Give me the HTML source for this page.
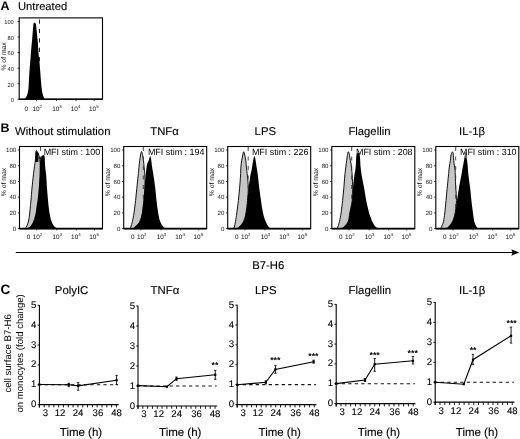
<!DOCTYPE html>
<html><head><meta charset="utf-8"><title>Figure</title>
<style>
html,body{margin:0;padding:0;background:#fff;}
body{width:520px;height:439px;overflow:hidden;}
svg{display:block;will-change:transform;filter:blur(0.3px);}
text{font-family:"Liberation Sans", sans-serif;text-rendering:geometricPrecision;}
</style></head>
<body>
<svg width="520" height="439" viewBox="0 0 520 439">
<rect x="0" y="0" width="520" height="439" fill="#fff"/>
<text x="0.6" y="9.6" font-size="12.5" text-anchor="start" font-weight="bold" fill="#000" >A</text>
<text x="0.6" y="131.9" font-size="12.5" text-anchor="start" font-weight="bold" fill="#000" >B</text>
<text x="0.4" y="293.8" font-size="13.5" text-anchor="start" font-weight="bold" fill="#000" >C</text>
<text x="18" y="9.6" font-size="11.2" text-anchor="start" font-weight="normal" fill="#000" stroke="#000" stroke-width="0.12">Untreated</text>
<line x1="17.6" y1="99.3" x2="19.2" y2="99.3" stroke="#000" stroke-width="0.8"/>
<text x="13.8" y="102.15" font-size="5.7" text-anchor="end" font-weight="normal" fill="#111" >0</text>
<line x1="17.6" y1="83.74" x2="19.2" y2="83.74" stroke="#000" stroke-width="0.8"/>
<text x="13.8" y="86.59" font-size="5.7" text-anchor="end" font-weight="normal" fill="#111" >20</text>
<line x1="17.6" y1="68.18" x2="19.2" y2="68.18" stroke="#000" stroke-width="0.8"/>
<text x="13.8" y="71.03" font-size="5.7" text-anchor="end" font-weight="normal" fill="#111" >40</text>
<line x1="17.6" y1="52.62" x2="19.2" y2="52.62" stroke="#000" stroke-width="0.8"/>
<text x="13.8" y="55.47" font-size="5.7" text-anchor="end" font-weight="normal" fill="#111" >60</text>
<line x1="17.6" y1="37.06" x2="19.2" y2="37.06" stroke="#000" stroke-width="0.8"/>
<text x="13.8" y="39.91" font-size="5.7" text-anchor="end" font-weight="normal" fill="#111" >80</text>
<line x1="17.6" y1="21.5" x2="19.2" y2="21.5" stroke="#000" stroke-width="0.8"/>
<text x="13.8" y="24.35" font-size="5.7" text-anchor="end" font-weight="normal" fill="#111" >100</text>
<text transform="translate(5.6,56.4) rotate(-90)" font-size="6.8" text-anchor="middle" fill="#111">% of max</text>
<text x="26.3" y="110.8" font-size="6.4" text-anchor="middle" font-weight="normal" fill="#111" >0</text>
<text x="37.2" y="110.8" font-size="6.4" text-anchor="middle" font-weight="normal" fill="#111" >10<tspan font-size="4.4" dy="-2.8">2</tspan></text>
<text x="57" y="110.8" font-size="6.4" text-anchor="middle" font-weight="normal" fill="#111" >10<tspan font-size="4.4" dy="-2.8">3</tspan></text>
<text x="75.6" y="110.8" font-size="6.4" text-anchor="middle" font-weight="normal" fill="#111" >10<tspan font-size="4.4" dy="-2.8">4</tspan></text>
<text x="93.8" y="110.8" font-size="6.4" text-anchor="middle" font-weight="normal" fill="#111" >10<tspan font-size="4.4" dy="-2.8">5</tspan></text>
<line x1="36.4" y1="99.3" x2="36.4" y2="101.1" stroke="#000" stroke-width="0.7"/>
<line x1="56.5" y1="99.3" x2="56.5" y2="101.1" stroke="#000" stroke-width="0.7"/>
<line x1="76.1" y1="99.3" x2="76.1" y2="101.1" stroke="#000" stroke-width="0.7"/>
<line x1="94.2" y1="99.3" x2="94.2" y2="101.1" stroke="#000" stroke-width="0.7"/>
<path d="M24.5,99.3 C24.65,99.13 24.93,99.08 25.4,98.3 C25.87,97.52 26.78,96.32 27.3,94.6 C27.82,92.88 28.22,90.65 28.5,88 C28.78,85.35 28.82,81.82 29,78.7 C29.18,75.58 29.37,72.42 29.6,69.3 C29.83,66.18 30.17,62.88 30.4,60 C30.63,57.12 30.82,54.33 31,52 C31.18,49.67 31.32,48 31.5,46 C31.68,44 31.93,41.83 32.1,40 C32.27,38.17 32.37,36.67 32.5,35 C32.63,33.33 32.77,31.58 32.9,30 C33.03,28.42 33.18,26.57 33.3,25.5 C33.42,24.43 33.43,24.07 33.6,23.6 C33.77,23.13 34.03,22.82 34.3,22.7 C34.57,22.58 34.93,22.68 35.2,22.9 C35.47,23.12 35.73,23.48 35.9,24 C36.07,24.52 36.07,24.83 36.2,26 C36.33,27.17 36.53,29.27 36.7,31 C36.87,32.73 37.02,34.57 37.2,36.4 C37.38,38.23 37.63,40.07 37.8,42 C37.97,43.93 38.07,46 38.2,48 C38.33,50 38.42,52 38.6,54 C38.78,56 39.1,58 39.3,60 C39.5,62 39.63,64 39.8,66 C39.97,68 40.13,69.88 40.3,72 C40.47,74.12 40.58,76.03 40.8,78.7 C41.02,81.37 41.27,85.35 41.6,88 C41.93,90.65 42.35,92.88 42.8,94.6 C43.25,96.32 43.83,97.52 44.3,98.3 C44.77,99.08 45.38,99.13 45.6,99.3 Z" fill="#000"/>
<line x1="39.5" y1="19.5" x2="39.5" y2="62" stroke="#222" stroke-width="1.0" stroke-dasharray="4.2,5.2"/>
<rect x="19.2" y="17.9" width="83.3" height="81.4" fill="none" stroke="#000" stroke-width="1.1"/>
<line x1="19.2" y1="99.3" x2="102.5" y2="99.3" stroke="#000" stroke-width="1.6"/>
<text x="15" y="135.4" font-size="11.3" text-anchor="start" font-weight="normal" fill="#000" stroke="#000" stroke-width="0.12">Without stimulation</text>
<text x="150.3" y="135.4" font-size="11.3" text-anchor="start" font-weight="normal" fill="#000" stroke="#000" stroke-width="0.12">TNFα</text>
<text x="254.6" y="135.4" font-size="11.3" text-anchor="start" font-weight="normal" fill="#000" stroke="#000" stroke-width="0.12">LPS</text>
<text x="348.4" y="135.4" font-size="11.3" text-anchor="start" font-weight="normal" fill="#000" stroke="#000" stroke-width="0.12">Flagellin</text>
<text x="459" y="135.4" font-size="11.3" text-anchor="start" font-weight="normal" fill="#000" stroke="#000" stroke-width="0.12">IL-1β</text>
<line x1="17.9" y1="228.6" x2="19.5" y2="228.6" stroke="#000" stroke-width="0.8"/>
<text x="16.2" y="230.8" font-size="6.1" text-anchor="end" font-weight="normal" fill="#111" >0</text>
<line x1="17.9" y1="212.88" x2="19.5" y2="212.88" stroke="#000" stroke-width="0.8"/>
<text x="16.2" y="215.08" font-size="6.1" text-anchor="end" font-weight="normal" fill="#111" >20</text>
<line x1="17.9" y1="197.16" x2="19.5" y2="197.16" stroke="#000" stroke-width="0.8"/>
<text x="16.2" y="199.36" font-size="6.1" text-anchor="end" font-weight="normal" fill="#111" >40</text>
<line x1="17.9" y1="181.44" x2="19.5" y2="181.44" stroke="#000" stroke-width="0.8"/>
<text x="16.2" y="183.64" font-size="6.1" text-anchor="end" font-weight="normal" fill="#111" >60</text>
<line x1="17.9" y1="165.72" x2="19.5" y2="165.72" stroke="#000" stroke-width="0.8"/>
<text x="16.2" y="167.92" font-size="6.1" text-anchor="end" font-weight="normal" fill="#111" >80</text>
<line x1="17.9" y1="150" x2="19.5" y2="150" stroke="#000" stroke-width="0.8"/>
<text x="16.2" y="152.2" font-size="6.1" text-anchor="end" font-weight="normal" fill="#111" >100</text>
<text transform="translate(5.9,182) rotate(-90)" font-size="6.8" text-anchor="middle" fill="#111">% of max</text>
<text x="28.5" y="238.8" font-size="6.4" text-anchor="middle" font-weight="normal" fill="#111" >0</text>
<text x="37.5" y="238.8" font-size="6.4" text-anchor="middle" font-weight="normal" fill="#111" >10<tspan font-size="4.4" dy="-2.8">2</tspan></text>
<text x="57.3" y="238.8" font-size="6.4" text-anchor="middle" font-weight="normal" fill="#111" >10<tspan font-size="4.4" dy="-2.8">3</tspan></text>
<text x="75.9" y="238.8" font-size="6.4" text-anchor="middle" font-weight="normal" fill="#111" >10<tspan font-size="4.4" dy="-2.8">4</tspan></text>
<text x="94.1" y="238.8" font-size="6.4" text-anchor="middle" font-weight="normal" fill="#111" >10<tspan font-size="4.4" dy="-2.8">5</tspan></text>
<line x1="36.7" y1="228.6" x2="36.7" y2="230.4" stroke="#000" stroke-width="0.7"/>
<line x1="56.8" y1="228.6" x2="56.8" y2="230.4" stroke="#000" stroke-width="0.7"/>
<line x1="76.4" y1="228.6" x2="76.4" y2="230.4" stroke="#000" stroke-width="0.7"/>
<line x1="94.5" y1="228.6" x2="94.5" y2="230.4" stroke="#000" stroke-width="0.7"/>
<path d="M24.5,228.6 C24.6,228.55 24.72,228.73 25.1,228.3 C25.48,227.87 26.22,227.22 26.8,226 C27.38,224.78 28.13,223 28.6,221 C29.07,219 29.32,216.33 29.6,214 C29.88,211.67 30.07,209.33 30.3,207 C30.53,204.67 30.72,203.17 31,200 C31.28,196.83 31.62,192 32,188 C32.38,184 32.9,179.5 33.3,176 C33.7,172.5 34.07,169.53 34.4,167 C34.73,164.47 35.03,163.43 35.3,160.8 C35.57,158.17 35.68,152.75 36,151.2 C36.32,149.65 36.78,151.03 37.2,151.5 C37.62,151.97 38.12,152.92 38.5,154 C38.88,155.08 39.2,156.17 39.5,158 C39.8,159.83 40.13,162 40.3,165 C40.47,168 40.55,171.83 40.5,176 C40.45,180.17 40.17,186 40,190 C39.83,194 39.75,196.67 39.5,200 C39.25,203.33 39.08,206.67 38.5,210 C37.92,213.33 37.08,217.33 36,220 C34.92,222.67 33.33,224.57 32,226 C30.67,227.43 28.67,228.17 28,228.6 Z" fill="#c6c6c6" stroke="#111" stroke-width="1.0"/>
<line x1="40.6" y1="147" x2="40.6" y2="228" stroke="#333" stroke-width="0.9" stroke-dasharray="4,5.5"/>
<path d="M27.5,228.6 C28.03,228.17 29.72,227.27 30.7,226 C31.68,224.73 32.6,223 33.4,221 C34.2,219 34.98,216.33 35.5,214 C36.02,211.67 36.15,209.33 36.5,207 C36.85,204.67 37.22,203.17 37.6,200 C37.98,196.83 38.48,192 38.8,188 C39.12,184 39.33,179.5 39.5,176 C39.67,172.5 39.68,169.53 39.8,167 C39.92,164.47 40.03,162.38 40.2,160.8 C40.37,159.22 40.5,158.3 40.8,157.5 C41.1,156.7 41.58,156.42 42,156 C42.42,155.58 42.92,155.08 43.3,155 C43.68,154.92 44.07,155.07 44.3,155.5 C44.53,155.93 44.55,155.68 44.7,157.6 C44.85,159.52 44.95,164.03 45.2,167 C45.45,169.97 45.9,171.9 46.2,175.4 C46.5,178.9 46.7,183.9 47,188 C47.3,192.1 47.72,196.83 48,200 C48.28,203.17 48.42,204.67 48.7,207 C48.98,209.33 49.25,211.67 49.7,214 C50.15,216.33 50.7,219 51.4,221 C52.1,223 52.92,224.78 53.9,226 C54.88,227.22 56.45,227.87 57.3,228.3 C58.15,228.73 58.72,228.55 59,228.6 Z" fill="#000"/>
<path d="M35.3,162 L35.5,156 L36,151.2 L37,151.5 L38.3,153.5 L38.6,158 L38.2,162 Z" fill="#000"/>
<rect x="19.5" y="146.5" width="83" height="82.1" fill="none" stroke="#000" stroke-width="1.1"/>
<line x1="19.5" y1="228.6" x2="102.5" y2="228.6" stroke="#000" stroke-width="1.6"/>
<text x="100.3" y="155.1" font-size="8.95" text-anchor="end" font-weight="normal" fill="#000" >MFI stim : 100</text>
<line x1="122.1" y1="228.6" x2="123.7" y2="228.6" stroke="#000" stroke-width="0.8"/>
<text x="120.4" y="230.8" font-size="6.1" text-anchor="end" font-weight="normal" fill="#111" >0</text>
<line x1="122.1" y1="212.88" x2="123.7" y2="212.88" stroke="#000" stroke-width="0.8"/>
<text x="120.4" y="215.08" font-size="6.1" text-anchor="end" font-weight="normal" fill="#111" >20</text>
<line x1="122.1" y1="197.16" x2="123.7" y2="197.16" stroke="#000" stroke-width="0.8"/>
<text x="120.4" y="199.36" font-size="6.1" text-anchor="end" font-weight="normal" fill="#111" >40</text>
<line x1="122.1" y1="181.44" x2="123.7" y2="181.44" stroke="#000" stroke-width="0.8"/>
<text x="120.4" y="183.64" font-size="6.1" text-anchor="end" font-weight="normal" fill="#111" >60</text>
<line x1="122.1" y1="165.72" x2="123.7" y2="165.72" stroke="#000" stroke-width="0.8"/>
<text x="120.4" y="167.92" font-size="6.1" text-anchor="end" font-weight="normal" fill="#111" >80</text>
<line x1="122.1" y1="150" x2="123.7" y2="150" stroke="#000" stroke-width="0.8"/>
<text x="120.4" y="152.2" font-size="6.1" text-anchor="end" font-weight="normal" fill="#111" >100</text>
<text transform="translate(110.1,182) rotate(-90)" font-size="6.8" text-anchor="middle" fill="#111">% of max</text>
<text x="132.7" y="238.8" font-size="6.4" text-anchor="middle" font-weight="normal" fill="#111" >0</text>
<text x="141.7" y="238.8" font-size="6.4" text-anchor="middle" font-weight="normal" fill="#111" >10<tspan font-size="4.4" dy="-2.8">2</tspan></text>
<text x="161.5" y="238.8" font-size="6.4" text-anchor="middle" font-weight="normal" fill="#111" >10<tspan font-size="4.4" dy="-2.8">3</tspan></text>
<text x="180.1" y="238.8" font-size="6.4" text-anchor="middle" font-weight="normal" fill="#111" >10<tspan font-size="4.4" dy="-2.8">4</tspan></text>
<text x="198.3" y="238.8" font-size="6.4" text-anchor="middle" font-weight="normal" fill="#111" >10<tspan font-size="4.4" dy="-2.8">5</tspan></text>
<line x1="140.9" y1="228.6" x2="140.9" y2="230.4" stroke="#000" stroke-width="0.7"/>
<line x1="161" y1="228.6" x2="161" y2="230.4" stroke="#000" stroke-width="0.7"/>
<line x1="180.6" y1="228.6" x2="180.6" y2="230.4" stroke="#000" stroke-width="0.7"/>
<line x1="198.7" y1="228.6" x2="198.7" y2="230.4" stroke="#000" stroke-width="0.7"/>
<path d="M129.5,228.6 C129.7,228.35 130.22,228.28 130.7,227.1 C131.18,225.92 131.85,223.87 132.4,221.5 C132.95,219.13 133.47,216.38 134,212.9 C134.53,209.42 135.13,204.7 135.6,200.6 C136.07,196.5 136.38,192.4 136.8,188.3 C137.22,184.2 137.73,179.53 138.1,176 C138.47,172.47 138.73,169.63 139,167.1 C139.27,164.57 139.43,162.82 139.7,160.8 C139.97,158.78 140.32,156.55 140.6,155 C140.88,153.45 141.08,151.6 141.4,151.5 C141.72,151.4 142.15,152.85 142.5,154.4 C142.85,155.95 143.23,158.68 143.5,160.8 C143.77,162.92 143.87,164.57 144.1,167.1 C144.33,169.63 144.75,172.47 144.9,176 C145.05,179.53 145.15,184.2 145,188.3 C144.85,192.4 144.42,196.5 144,200.6 C143.58,204.7 143.17,209.42 142.5,212.9 C141.83,216.38 141.08,218.88 140,221.5 C138.92,224.12 136.67,227.42 136,228.6 Z" fill="#c6c6c6" stroke="#111" stroke-width="1.0"/>
<line x1="143.3" y1="147" x2="143.3" y2="228" stroke="#333" stroke-width="0.9" stroke-dasharray="4,5.5"/>
<path d="M133.5,228.6 C133.68,228.35 133.6,228.28 134.6,227.1 C135.6,225.92 138.27,223.87 139.5,221.5 C140.73,219.13 141.33,216.38 142,212.9 C142.67,209.42 143.08,204.7 143.5,200.6 C143.92,196.5 144.15,192.4 144.5,188.3 C144.85,184.2 145.25,179.53 145.6,176 C145.95,172.47 146.28,169.27 146.6,167.1 C146.92,164.93 147.12,164.18 147.5,163 C147.88,161.82 148.52,161.03 148.9,160 C149.28,158.97 149.57,157.42 149.8,156.8 C150.03,156.18 150.13,156.18 150.3,156.3 C150.47,156.42 150.63,156.75 150.8,157.5 C150.97,158.25 151.08,159.2 151.3,160.8 C151.52,162.4 151.72,164.57 152.1,167.1 C152.48,169.63 153.07,172.47 153.6,176 C154.13,179.53 154.82,184.2 155.3,188.3 C155.78,192.4 156.02,196.5 156.5,200.6 C156.98,204.7 157.58,209.42 158.2,212.9 C158.82,216.38 159.32,219.13 160.2,221.5 C161.08,223.87 162.53,225.92 163.5,227.1 C164.47,228.28 165.58,228.35 166,228.6 Z" fill="#000"/>
<rect x="123.7" y="146.5" width="83" height="82.1" fill="none" stroke="#000" stroke-width="1.1"/>
<line x1="123.7" y1="228.6" x2="206.7" y2="228.6" stroke="#000" stroke-width="1.6"/>
<text x="204.5" y="155.1" font-size="8.95" text-anchor="end" font-weight="normal" fill="#000" >MFI stim : 194</text>
<line x1="226.1" y1="228.6" x2="227.7" y2="228.6" stroke="#000" stroke-width="0.8"/>
<text x="224.4" y="230.8" font-size="6.1" text-anchor="end" font-weight="normal" fill="#111" >0</text>
<line x1="226.1" y1="212.88" x2="227.7" y2="212.88" stroke="#000" stroke-width="0.8"/>
<text x="224.4" y="215.08" font-size="6.1" text-anchor="end" font-weight="normal" fill="#111" >20</text>
<line x1="226.1" y1="197.16" x2="227.7" y2="197.16" stroke="#000" stroke-width="0.8"/>
<text x="224.4" y="199.36" font-size="6.1" text-anchor="end" font-weight="normal" fill="#111" >40</text>
<line x1="226.1" y1="181.44" x2="227.7" y2="181.44" stroke="#000" stroke-width="0.8"/>
<text x="224.4" y="183.64" font-size="6.1" text-anchor="end" font-weight="normal" fill="#111" >60</text>
<line x1="226.1" y1="165.72" x2="227.7" y2="165.72" stroke="#000" stroke-width="0.8"/>
<text x="224.4" y="167.92" font-size="6.1" text-anchor="end" font-weight="normal" fill="#111" >80</text>
<line x1="226.1" y1="150" x2="227.7" y2="150" stroke="#000" stroke-width="0.8"/>
<text x="224.4" y="152.2" font-size="6.1" text-anchor="end" font-weight="normal" fill="#111" >100</text>
<text transform="translate(214.1,182) rotate(-90)" font-size="6.8" text-anchor="middle" fill="#111">% of max</text>
<text x="236.7" y="238.8" font-size="6.4" text-anchor="middle" font-weight="normal" fill="#111" >0</text>
<text x="245.7" y="238.8" font-size="6.4" text-anchor="middle" font-weight="normal" fill="#111" >10<tspan font-size="4.4" dy="-2.8">2</tspan></text>
<text x="265.5" y="238.8" font-size="6.4" text-anchor="middle" font-weight="normal" fill="#111" >10<tspan font-size="4.4" dy="-2.8">3</tspan></text>
<text x="284.1" y="238.8" font-size="6.4" text-anchor="middle" font-weight="normal" fill="#111" >10<tspan font-size="4.4" dy="-2.8">4</tspan></text>
<text x="302.3" y="238.8" font-size="6.4" text-anchor="middle" font-weight="normal" fill="#111" >10<tspan font-size="4.4" dy="-2.8">5</tspan></text>
<line x1="244.9" y1="228.6" x2="244.9" y2="230.4" stroke="#000" stroke-width="0.7"/>
<line x1="265" y1="228.6" x2="265" y2="230.4" stroke="#000" stroke-width="0.7"/>
<line x1="284.6" y1="228.6" x2="284.6" y2="230.4" stroke="#000" stroke-width="0.7"/>
<line x1="302.7" y1="228.6" x2="302.7" y2="230.4" stroke="#000" stroke-width="0.7"/>
<path d="M233,228.6 C233.22,228.35 233.88,228.28 234.3,227.1 C234.72,225.92 235.08,223.87 235.5,221.5 C235.92,219.13 236.32,216.38 236.8,212.9 C237.28,209.42 237.93,204.7 238.4,200.6 C238.87,196.5 239.25,192.4 239.6,188.3 C239.95,184.2 240.28,179.53 240.5,176 C240.72,172.47 240.7,169.63 240.9,167.1 C241.1,164.57 241.38,162.82 241.7,160.8 C242.02,158.78 242.48,156.5 242.8,155 C243.12,153.5 243.32,151.97 243.6,151.8 C243.88,151.63 244.13,152.5 244.5,154 C244.87,155.5 245.48,158.62 245.8,160.8 C246.12,162.98 246.13,164.57 246.4,167.1 C246.67,169.63 247.08,172.47 247.4,176 C247.72,179.53 248.28,184.2 248.3,188.3 C248.32,192.4 247.88,196.5 247.5,200.6 C247.12,204.7 246.67,209.42 246,212.9 C245.33,216.38 244.63,219.13 243.5,221.5 C242.37,223.87 240.28,225.92 239.2,227.1 C238.12,228.28 237.37,228.35 237,228.6 Z" fill="#c6c6c6" stroke="#111" stroke-width="1.0"/>
<line x1="248.2" y1="147" x2="248.2" y2="228" stroke="#333" stroke-width="0.9" stroke-dasharray="4,5.5"/>
<path d="M237,228.6 C237.37,228.35 238.12,228.28 239.2,227.1 C240.28,225.92 242.37,223.87 243.5,221.5 C244.63,219.13 245.33,216.38 246,212.9 C246.67,209.42 247.07,204.7 247.5,200.6 C247.93,196.5 248.13,192.4 248.6,188.3 C249.07,184.2 249.8,179.05 250.3,176 C250.8,172.95 251.25,171.83 251.6,170 C251.95,168.17 252.15,166.53 252.4,165 C252.65,163.47 252.87,162.05 253.1,160.8 C253.33,159.55 253.58,158.25 253.8,157.5 C254.02,156.75 254.2,156.3 254.4,156.3 C254.6,156.3 254.78,156.75 255,157.5 C255.22,158.25 255.43,159.2 255.7,160.8 C255.97,162.4 256.23,164.67 256.6,167.1 C256.97,169.53 257.45,171.87 257.9,175.4 C258.35,178.93 258.78,184.1 259.3,188.3 C259.82,192.5 260.38,196.5 261,200.6 C261.62,204.7 262.22,209.42 263,212.9 C263.78,216.38 264.73,219.13 265.7,221.5 C266.67,223.87 267.92,225.92 268.8,227.1 C269.68,228.28 270.63,228.35 271,228.6 Z" fill="#000"/>
<rect x="227.7" y="146.5" width="83" height="82.1" fill="none" stroke="#000" stroke-width="1.1"/>
<line x1="227.7" y1="228.6" x2="310.7" y2="228.6" stroke="#000" stroke-width="1.6"/>
<text x="308.5" y="155.1" font-size="8.95" text-anchor="end" font-weight="normal" fill="#000" >MFI stim : 226</text>
<line x1="330.2" y1="228.6" x2="331.8" y2="228.6" stroke="#000" stroke-width="0.8"/>
<text x="328.5" y="230.8" font-size="6.1" text-anchor="end" font-weight="normal" fill="#111" >0</text>
<line x1="330.2" y1="212.88" x2="331.8" y2="212.88" stroke="#000" stroke-width="0.8"/>
<text x="328.5" y="215.08" font-size="6.1" text-anchor="end" font-weight="normal" fill="#111" >20</text>
<line x1="330.2" y1="197.16" x2="331.8" y2="197.16" stroke="#000" stroke-width="0.8"/>
<text x="328.5" y="199.36" font-size="6.1" text-anchor="end" font-weight="normal" fill="#111" >40</text>
<line x1="330.2" y1="181.44" x2="331.8" y2="181.44" stroke="#000" stroke-width="0.8"/>
<text x="328.5" y="183.64" font-size="6.1" text-anchor="end" font-weight="normal" fill="#111" >60</text>
<line x1="330.2" y1="165.72" x2="331.8" y2="165.72" stroke="#000" stroke-width="0.8"/>
<text x="328.5" y="167.92" font-size="6.1" text-anchor="end" font-weight="normal" fill="#111" >80</text>
<line x1="330.2" y1="150" x2="331.8" y2="150" stroke="#000" stroke-width="0.8"/>
<text x="328.5" y="152.2" font-size="6.1" text-anchor="end" font-weight="normal" fill="#111" >100</text>
<text transform="translate(318.2,182) rotate(-90)" font-size="6.8" text-anchor="middle" fill="#111">% of max</text>
<text x="340.8" y="238.8" font-size="6.4" text-anchor="middle" font-weight="normal" fill="#111" >0</text>
<text x="349.8" y="238.8" font-size="6.4" text-anchor="middle" font-weight="normal" fill="#111" >10<tspan font-size="4.4" dy="-2.8">2</tspan></text>
<text x="369.6" y="238.8" font-size="6.4" text-anchor="middle" font-weight="normal" fill="#111" >10<tspan font-size="4.4" dy="-2.8">3</tspan></text>
<text x="388.2" y="238.8" font-size="6.4" text-anchor="middle" font-weight="normal" fill="#111" >10<tspan font-size="4.4" dy="-2.8">4</tspan></text>
<text x="406.4" y="238.8" font-size="6.4" text-anchor="middle" font-weight="normal" fill="#111" >10<tspan font-size="4.4" dy="-2.8">5</tspan></text>
<line x1="349" y1="228.6" x2="349" y2="230.4" stroke="#000" stroke-width="0.7"/>
<line x1="369.1" y1="228.6" x2="369.1" y2="230.4" stroke="#000" stroke-width="0.7"/>
<line x1="388.7" y1="228.6" x2="388.7" y2="230.4" stroke="#000" stroke-width="0.7"/>
<line x1="406.8" y1="228.6" x2="406.8" y2="230.4" stroke="#000" stroke-width="0.7"/>
<path d="M337,228.6 C337.12,228.35 337.28,228.28 337.7,227.1 C338.12,225.92 338.93,223.87 339.5,221.5 C340.07,219.13 340.58,216.38 341.1,212.9 C341.62,209.42 342.15,204.7 342.6,200.6 C343.05,196.5 343.43,192.4 343.8,188.3 C344.17,184.2 344.47,179.53 344.8,176 C345.13,172.47 345.5,169.63 345.8,167.1 C346.1,164.57 346.33,162.73 346.6,160.8 C346.87,158.87 347.13,157 347.4,155.5 C347.67,154 347.9,152.13 348.2,151.8 C348.5,151.47 348.93,152.53 349.2,153.5 C349.47,154.47 349.48,155.85 349.8,157.6 C350.12,159.35 350.78,161.93 351.1,164 C351.42,166.07 351.52,168 351.7,170 C351.88,172 352.03,172.95 352.2,176 C352.37,179.05 352.7,184.2 352.7,188.3 C352.7,192.4 352.68,196.5 352.2,200.6 C351.72,204.7 350.47,209.42 349.8,212.9 C349.13,216.38 349.2,219.13 348.2,221.5 C347.2,223.87 345,225.92 343.8,227.1 C342.6,228.28 341.47,228.35 341,228.6 Z" fill="#c6c6c6" stroke="#111" stroke-width="1.0"/>
<line x1="351.7" y1="147" x2="351.7" y2="228" stroke="#333" stroke-width="0.9" stroke-dasharray="4,5.5"/>
<path d="M341,228.6 C341.47,228.35 342.6,228.28 343.8,227.1 C345,225.92 347.2,223.87 348.2,221.5 C349.2,219.13 349.13,216.38 349.8,212.9 C350.47,209.42 351.68,204.7 352.2,200.6 C352.72,196.5 352.55,192.4 352.9,188.3 C353.25,184.2 353.83,179.53 354.3,176 C354.77,172.47 355.38,170.17 355.7,167.1 C356.02,164.03 356.05,159.7 356.2,157.6 C356.35,155.5 356.38,155.23 356.6,154.5 C356.82,153.77 357.2,153.43 357.5,153.2 C357.8,152.97 358.1,153.1 358.4,153.1 C358.7,153.1 359.03,152.45 359.3,153.2 C359.57,153.95 359.78,155.28 360,157.6 C360.22,159.92 360.3,164.03 360.6,167.1 C360.9,170.17 361.2,172.47 361.8,176 C362.4,179.53 363.47,184.2 364.2,188.3 C364.93,192.4 365.38,196.5 366.2,200.6 C367.02,204.7 368.32,210.03 369.1,212.9 C369.88,215.77 370.38,216.37 370.9,217.8 C371.42,219.23 371.38,219.95 372.2,221.5 C373.02,223.05 374.58,225.92 375.8,227.1 C377.02,228.28 378.88,228.35 379.5,228.6 Z" fill="#000"/>
<rect x="331.8" y="146.5" width="83" height="82.1" fill="none" stroke="#000" stroke-width="1.1"/>
<line x1="331.8" y1="228.6" x2="414.8" y2="228.6" stroke="#000" stroke-width="1.6"/>
<text x="412.6" y="155.1" font-size="8.95" text-anchor="end" font-weight="normal" fill="#000" >MFI stim : 208</text>
<line x1="434.2" y1="228.6" x2="435.8" y2="228.6" stroke="#000" stroke-width="0.8"/>
<text x="432.5" y="230.8" font-size="6.1" text-anchor="end" font-weight="normal" fill="#111" >0</text>
<line x1="434.2" y1="212.88" x2="435.8" y2="212.88" stroke="#000" stroke-width="0.8"/>
<text x="432.5" y="215.08" font-size="6.1" text-anchor="end" font-weight="normal" fill="#111" >20</text>
<line x1="434.2" y1="197.16" x2="435.8" y2="197.16" stroke="#000" stroke-width="0.8"/>
<text x="432.5" y="199.36" font-size="6.1" text-anchor="end" font-weight="normal" fill="#111" >40</text>
<line x1="434.2" y1="181.44" x2="435.8" y2="181.44" stroke="#000" stroke-width="0.8"/>
<text x="432.5" y="183.64" font-size="6.1" text-anchor="end" font-weight="normal" fill="#111" >60</text>
<line x1="434.2" y1="165.72" x2="435.8" y2="165.72" stroke="#000" stroke-width="0.8"/>
<text x="432.5" y="167.92" font-size="6.1" text-anchor="end" font-weight="normal" fill="#111" >80</text>
<line x1="434.2" y1="150" x2="435.8" y2="150" stroke="#000" stroke-width="0.8"/>
<text x="432.5" y="152.2" font-size="6.1" text-anchor="end" font-weight="normal" fill="#111" >100</text>
<text transform="translate(422.2,182) rotate(-90)" font-size="6.8" text-anchor="middle" fill="#111">% of max</text>
<text x="444.8" y="238.8" font-size="6.4" text-anchor="middle" font-weight="normal" fill="#111" >0</text>
<text x="453.8" y="238.8" font-size="6.4" text-anchor="middle" font-weight="normal" fill="#111" >10<tspan font-size="4.4" dy="-2.8">2</tspan></text>
<text x="473.6" y="238.8" font-size="6.4" text-anchor="middle" font-weight="normal" fill="#111" >10<tspan font-size="4.4" dy="-2.8">3</tspan></text>
<text x="492.2" y="238.8" font-size="6.4" text-anchor="middle" font-weight="normal" fill="#111" >10<tspan font-size="4.4" dy="-2.8">4</tspan></text>
<text x="510.4" y="238.8" font-size="6.4" text-anchor="middle" font-weight="normal" fill="#111" >10<tspan font-size="4.4" dy="-2.8">5</tspan></text>
<line x1="453" y1="228.6" x2="453" y2="230.4" stroke="#000" stroke-width="0.7"/>
<line x1="473.1" y1="228.6" x2="473.1" y2="230.4" stroke="#000" stroke-width="0.7"/>
<line x1="492.7" y1="228.6" x2="492.7" y2="230.4" stroke="#000" stroke-width="0.7"/>
<line x1="510.8" y1="228.6" x2="510.8" y2="230.4" stroke="#000" stroke-width="0.7"/>
<path d="M440.5,228.6 C440.65,228.35 440.9,228.28 441.4,227.1 C441.9,225.92 442.93,223.87 443.5,221.5 C444.07,219.13 444.38,216.38 444.8,212.9 C445.22,209.42 445.6,204.7 446,200.6 C446.4,196.5 446.8,192.4 447.2,188.3 C447.6,184.2 448.05,179.53 448.4,176 C448.75,172.47 448.98,169.63 449.3,167.1 C449.62,164.57 450.03,162.65 450.3,160.8 C450.57,158.95 450.7,157.22 450.9,156 C451.1,154.78 451.23,154.2 451.5,153.5 C451.77,152.8 452.22,151.72 452.5,151.8 C452.78,151.88 453.03,153.03 453.2,154 C453.37,154.97 453.35,155.93 453.5,157.6 C453.65,159.27 453.83,161.93 454.1,164 C454.37,166.07 454.9,168 455.1,170 C455.3,172 455.18,172.95 455.3,176 C455.42,179.05 455.6,184.2 455.8,188.3 C456,192.4 456.6,196.5 456.5,200.6 C456.4,204.7 455.87,209.42 455.2,212.9 C454.53,216.38 453.63,219.13 452.5,221.5 C451.37,223.87 449.48,225.92 448.4,227.1 C447.32,228.28 446.4,228.35 446,228.6 Z" fill="#c6c6c6" stroke="#111" stroke-width="1.0"/>
<line x1="455.7" y1="147" x2="455.7" y2="228" stroke="#333" stroke-width="0.9" stroke-dasharray="4,5.5"/>
<path d="M446,228.6 C446.4,228.35 447.32,228.28 448.4,227.1 C449.48,225.92 451.37,223.87 452.5,221.5 C453.63,219.13 454.45,216.38 455.2,212.9 C455.95,209.42 456.38,204.7 457,200.6 C457.62,196.5 458.2,192.4 458.9,188.3 C459.6,184.2 460.58,179.38 461.2,176 C461.82,172.62 462.23,170 462.6,168 C462.97,166 463.08,165.67 463.4,164 C463.72,162.33 464.13,159.5 464.5,158 C464.87,156.5 465.25,155 465.6,155 C465.95,155 466.28,156.5 466.6,158 C466.92,159.5 467.18,161.1 467.5,164 C467.82,166.9 468.05,171.35 468.5,175.4 C468.95,179.45 469.72,184.1 470.2,188.3 C470.68,192.5 470.93,196.5 471.4,200.6 C471.87,204.7 472.52,209.42 473,212.9 C473.48,216.38 473.68,219.13 474.3,221.5 C474.92,223.87 475.98,225.92 476.7,227.1 C477.42,228.28 478.28,228.35 478.6,228.6 Z" fill="#000"/>
<path d="M464.3,158 L465.2,152 L466,151.6 L466.8,154 L467.2,158 Z" fill="#666"/>
<rect x="435.8" y="146.5" width="83" height="82.1" fill="none" stroke="#000" stroke-width="1.1"/>
<line x1="435.8" y1="228.6" x2="518.8" y2="228.6" stroke="#000" stroke-width="1.6"/>
<text x="516.6" y="155.1" font-size="8.95" text-anchor="end" font-weight="normal" fill="#000" >MFI stim : 310</text>
<line x1="15.8" y1="252.5" x2="513" y2="252.5" stroke="#000" stroke-width="1.2"/>
<path d="M511.3,249.3 L519.2,252.5 L511.3,255.8 L512.6,252.5 Z" fill="#000"/>
<text x="268.2" y="269.3" font-size="11.3" text-anchor="middle" font-weight="normal" fill="#000" stroke="#000" stroke-width="0.12">B7-H6</text>
<text transform="translate(10.8,353.4) rotate(-90)" font-size="9.6" text-anchor="middle">cell surface B7-H6</text>
<text transform="translate(22.6,353.4) rotate(-90)" font-size="9.6" text-anchor="middle">on monocytes (fold change)</text>
<text x="54.8" y="293.5" font-size="11.4" text-anchor="start" font-weight="normal" fill="#000" stroke="#000" stroke-width="0.12">PolyIC</text>
<line x1="39.4" y1="305" x2="39.4" y2="407.4" stroke="#000" stroke-width="1.1"/>
<line x1="38.9" y1="404.6" x2="118.6" y2="404.6" stroke="#000" stroke-width="1.2"/>
<line x1="37.6" y1="404.6" x2="39.4" y2="404.6" stroke="#000" stroke-width="0.9"/>
<text x="36.4" y="407.1" font-size="9.6" text-anchor="end" font-weight="normal" fill="#000" stroke="#000" stroke-width="0.1">0</text>
<line x1="37.6" y1="384.74" x2="39.4" y2="384.74" stroke="#000" stroke-width="0.9"/>
<text x="36.4" y="387.24" font-size="9.6" text-anchor="end" font-weight="normal" fill="#000" stroke="#000" stroke-width="0.1">1</text>
<line x1="37.6" y1="364.88" x2="39.4" y2="364.88" stroke="#000" stroke-width="0.9"/>
<text x="36.4" y="367.38" font-size="9.6" text-anchor="end" font-weight="normal" fill="#000" stroke="#000" stroke-width="0.1">2</text>
<line x1="37.6" y1="345.02" x2="39.4" y2="345.02" stroke="#000" stroke-width="0.9"/>
<text x="36.4" y="347.52" font-size="9.6" text-anchor="end" font-weight="normal" fill="#000" stroke="#000" stroke-width="0.1">3</text>
<line x1="37.6" y1="325.16" x2="39.4" y2="325.16" stroke="#000" stroke-width="0.9"/>
<text x="36.4" y="327.66" font-size="9.6" text-anchor="end" font-weight="normal" fill="#000" stroke="#000" stroke-width="0.1">4</text>
<line x1="37.6" y1="305.3" x2="39.4" y2="305.3" stroke="#000" stroke-width="0.9"/>
<text x="36.4" y="307.8" font-size="9.6" text-anchor="end" font-weight="normal" fill="#000" stroke="#000" stroke-width="0.1">5</text>
<line x1="39.4" y1="404.6" x2="39.4" y2="407.4" stroke="#000" stroke-width="0.9"/>
<line x1="44.21" y1="404.6" x2="44.21" y2="407.4" stroke="#000" stroke-width="0.9"/>
<line x1="49.03" y1="404.6" x2="49.03" y2="407.4" stroke="#000" stroke-width="0.9"/>
<line x1="53.84" y1="404.6" x2="53.84" y2="407.4" stroke="#000" stroke-width="0.9"/>
<line x1="58.66" y1="404.6" x2="58.66" y2="407.4" stroke="#000" stroke-width="0.9"/>
<line x1="63.47" y1="404.6" x2="63.47" y2="407.4" stroke="#000" stroke-width="0.9"/>
<line x1="68.29" y1="404.6" x2="68.29" y2="407.4" stroke="#000" stroke-width="0.9"/>
<line x1="73.1" y1="404.6" x2="73.1" y2="407.4" stroke="#000" stroke-width="0.9"/>
<line x1="77.92" y1="404.6" x2="77.92" y2="407.4" stroke="#000" stroke-width="0.9"/>
<line x1="82.73" y1="404.6" x2="82.73" y2="407.4" stroke="#000" stroke-width="0.9"/>
<line x1="87.55" y1="404.6" x2="87.55" y2="407.4" stroke="#000" stroke-width="0.9"/>
<line x1="92.36" y1="404.6" x2="92.36" y2="407.4" stroke="#000" stroke-width="0.9"/>
<line x1="97.18" y1="404.6" x2="97.18" y2="407.4" stroke="#000" stroke-width="0.9"/>
<line x1="102" y1="404.6" x2="102" y2="407.4" stroke="#000" stroke-width="0.9"/>
<line x1="106.81" y1="404.6" x2="106.81" y2="407.4" stroke="#000" stroke-width="0.9"/>
<line x1="111.62" y1="404.6" x2="111.62" y2="407.4" stroke="#000" stroke-width="0.9"/>
<line x1="116.44" y1="404.6" x2="116.44" y2="407.4" stroke="#000" stroke-width="0.9"/>
<text x="45.4" y="416" font-size="9.6" text-anchor="middle" font-weight="normal" fill="#000" stroke="#000" stroke-width="0.1">3</text>
<text x="60.1" y="416" font-size="9.6" text-anchor="middle" font-weight="normal" fill="#000" stroke="#000" stroke-width="0.1">12</text>
<text x="78.1" y="416" font-size="9.6" text-anchor="middle" font-weight="normal" fill="#000" stroke="#000" stroke-width="0.1">24</text>
<text x="97.9" y="416" font-size="9.6" text-anchor="middle" font-weight="normal" fill="#000" stroke="#000" stroke-width="0.1">36</text>
<text x="116.5" y="416" font-size="9.6" text-anchor="middle" font-weight="normal" fill="#000" stroke="#000" stroke-width="0.1">48</text>
<text x="81" y="436" font-size="11.5" text-anchor="middle" font-weight="normal" fill="#000" stroke="#000" stroke-width="0.12">Time (h)</text>
<line x1="38.4" y1="384.74" x2="118.1" y2="384.74" stroke="#111" stroke-width="1.2" stroke-dasharray="3.3,3.2"/>
<polyline points="39.4,384.5 68.75,384.7 78.15,385.9 116.6,380.2" fill="none" stroke="#000" stroke-width="1.1"/>
<rect x="38.3" y="383.4" width="2.2" height="2.2" fill="#000"/>
<rect x="67.65" y="383.6" width="2.2" height="2.2" fill="#000"/>
<line x1="68.75" y1="383.3" x2="68.75" y2="386.6" stroke="#000" stroke-width="0.9"/>
<line x1="67.55" y1="383.3" x2="69.95" y2="383.3" stroke="#000" stroke-width="0.8"/>
<line x1="67.55" y1="386.6" x2="69.95" y2="386.6" stroke="#000" stroke-width="0.8"/>
<rect x="77.05" y="384.8" width="2.2" height="2.2" fill="#000"/>
<line x1="78.15" y1="382.6" x2="78.15" y2="390.3" stroke="#000" stroke-width="0.9"/>
<line x1="76.95" y1="382.6" x2="79.35" y2="382.6" stroke="#000" stroke-width="0.8"/>
<line x1="76.95" y1="390.3" x2="79.35" y2="390.3" stroke="#000" stroke-width="0.8"/>
<rect x="115.5" y="379.1" width="2.2" height="2.2" fill="#000"/>
<line x1="116.6" y1="375.4" x2="116.6" y2="384.5" stroke="#000" stroke-width="0.9"/>
<line x1="115.4" y1="375.4" x2="117.8" y2="375.4" stroke="#000" stroke-width="0.8"/>
<line x1="115.4" y1="384.5" x2="117.8" y2="384.5" stroke="#000" stroke-width="0.8"/>
<text x="150.5" y="293.5" font-size="11.4" text-anchor="start" font-weight="normal" fill="#000" stroke="#000" stroke-width="0.12">TNFα</text>
<line x1="138" y1="305.7" x2="138" y2="408.8" stroke="#000" stroke-width="1.1"/>
<line x1="137.5" y1="406" x2="217.2" y2="406" stroke="#000" stroke-width="1.2"/>
<line x1="136.2" y1="406" x2="138" y2="406" stroke="#000" stroke-width="0.9"/>
<text x="135" y="408.5" font-size="9.6" text-anchor="end" font-weight="normal" fill="#000" stroke="#000" stroke-width="0.1">0</text>
<line x1="136.2" y1="386" x2="138" y2="386" stroke="#000" stroke-width="0.9"/>
<text x="135" y="388.5" font-size="9.6" text-anchor="end" font-weight="normal" fill="#000" stroke="#000" stroke-width="0.1">1</text>
<line x1="136.2" y1="366" x2="138" y2="366" stroke="#000" stroke-width="0.9"/>
<text x="135" y="368.5" font-size="9.6" text-anchor="end" font-weight="normal" fill="#000" stroke="#000" stroke-width="0.1">2</text>
<line x1="136.2" y1="346" x2="138" y2="346" stroke="#000" stroke-width="0.9"/>
<text x="135" y="348.5" font-size="9.6" text-anchor="end" font-weight="normal" fill="#000" stroke="#000" stroke-width="0.1">3</text>
<line x1="136.2" y1="326" x2="138" y2="326" stroke="#000" stroke-width="0.9"/>
<text x="135" y="328.5" font-size="9.6" text-anchor="end" font-weight="normal" fill="#000" stroke="#000" stroke-width="0.1">4</text>
<line x1="136.2" y1="306" x2="138" y2="306" stroke="#000" stroke-width="0.9"/>
<text x="135" y="308.5" font-size="9.6" text-anchor="end" font-weight="normal" fill="#000" stroke="#000" stroke-width="0.1">5</text>
<line x1="138" y1="406" x2="138" y2="408.8" stroke="#000" stroke-width="0.9"/>
<line x1="142.81" y1="406" x2="142.81" y2="408.8" stroke="#000" stroke-width="0.9"/>
<line x1="147.63" y1="406" x2="147.63" y2="408.8" stroke="#000" stroke-width="0.9"/>
<line x1="152.44" y1="406" x2="152.44" y2="408.8" stroke="#000" stroke-width="0.9"/>
<line x1="157.26" y1="406" x2="157.26" y2="408.8" stroke="#000" stroke-width="0.9"/>
<line x1="162.07" y1="406" x2="162.07" y2="408.8" stroke="#000" stroke-width="0.9"/>
<line x1="166.89" y1="406" x2="166.89" y2="408.8" stroke="#000" stroke-width="0.9"/>
<line x1="171.7" y1="406" x2="171.7" y2="408.8" stroke="#000" stroke-width="0.9"/>
<line x1="176.52" y1="406" x2="176.52" y2="408.8" stroke="#000" stroke-width="0.9"/>
<line x1="181.34" y1="406" x2="181.34" y2="408.8" stroke="#000" stroke-width="0.9"/>
<line x1="186.15" y1="406" x2="186.15" y2="408.8" stroke="#000" stroke-width="0.9"/>
<line x1="190.97" y1="406" x2="190.97" y2="408.8" stroke="#000" stroke-width="0.9"/>
<line x1="195.78" y1="406" x2="195.78" y2="408.8" stroke="#000" stroke-width="0.9"/>
<line x1="200.59" y1="406" x2="200.59" y2="408.8" stroke="#000" stroke-width="0.9"/>
<line x1="205.41" y1="406" x2="205.41" y2="408.8" stroke="#000" stroke-width="0.9"/>
<line x1="210.22" y1="406" x2="210.22" y2="408.8" stroke="#000" stroke-width="0.9"/>
<line x1="215.04" y1="406" x2="215.04" y2="408.8" stroke="#000" stroke-width="0.9"/>
<text x="144" y="417.4" font-size="9.6" text-anchor="middle" font-weight="normal" fill="#000" stroke="#000" stroke-width="0.1">3</text>
<text x="158.7" y="417.4" font-size="9.6" text-anchor="middle" font-weight="normal" fill="#000" stroke="#000" stroke-width="0.1">12</text>
<text x="176.7" y="417.4" font-size="9.6" text-anchor="middle" font-weight="normal" fill="#000" stroke="#000" stroke-width="0.1">24</text>
<text x="196.5" y="417.4" font-size="9.6" text-anchor="middle" font-weight="normal" fill="#000" stroke="#000" stroke-width="0.1">36</text>
<text x="215.1" y="417.4" font-size="9.6" text-anchor="middle" font-weight="normal" fill="#000" stroke="#000" stroke-width="0.1">48</text>
<text x="180.25" y="436" font-size="11.5" text-anchor="middle" font-weight="normal" fill="#000" stroke="#000" stroke-width="0.12">Time (h)</text>
<line x1="137" y1="386" x2="216.7" y2="386" stroke="#111" stroke-width="1.2" stroke-dasharray="3.3,3.2"/>
<polyline points="138,385.6 166.9,386.7 176.5,378.7 215.25,374.8" fill="none" stroke="#000" stroke-width="1.1"/>
<rect x="136.9" y="384.5" width="2.2" height="2.2" fill="#000"/>
<rect x="165.8" y="385.6" width="2.2" height="2.2" fill="#000"/>
<rect x="175.4" y="377.6" width="2.2" height="2.2" fill="#000"/>
<line x1="176.5" y1="377" x2="176.5" y2="380.4" stroke="#000" stroke-width="0.9"/>
<line x1="175.3" y1="377" x2="177.7" y2="377" stroke="#000" stroke-width="0.8"/>
<line x1="175.3" y1="380.4" x2="177.7" y2="380.4" stroke="#000" stroke-width="0.8"/>
<rect x="214.15" y="373.7" width="2.2" height="2.2" fill="#000"/>
<line x1="215.25" y1="370.4" x2="215.25" y2="379.4" stroke="#000" stroke-width="0.9"/>
<line x1="214.05" y1="370.4" x2="216.45" y2="370.4" stroke="#000" stroke-width="0.8"/>
<line x1="214.05" y1="379.4" x2="216.45" y2="379.4" stroke="#000" stroke-width="0.8"/>
<text x="215.05" y="368.4" font-size="8.8" text-anchor="middle" font-weight="bold" fill="#000" >**</text>
<text x="255" y="293.5" font-size="11.4" text-anchor="start" font-weight="normal" fill="#000" stroke="#000" stroke-width="0.12">LPS</text>
<line x1="237.2" y1="304.8" x2="237.2" y2="407.4" stroke="#000" stroke-width="1.1"/>
<line x1="236.7" y1="404.6" x2="316.4" y2="404.6" stroke="#000" stroke-width="1.2"/>
<line x1="235.4" y1="404.6" x2="237.2" y2="404.6" stroke="#000" stroke-width="0.9"/>
<text x="234.2" y="407.1" font-size="9.6" text-anchor="end" font-weight="normal" fill="#000" stroke="#000" stroke-width="0.1">0</text>
<line x1="235.4" y1="384.7" x2="237.2" y2="384.7" stroke="#000" stroke-width="0.9"/>
<text x="234.2" y="387.2" font-size="9.6" text-anchor="end" font-weight="normal" fill="#000" stroke="#000" stroke-width="0.1">1</text>
<line x1="235.4" y1="364.8" x2="237.2" y2="364.8" stroke="#000" stroke-width="0.9"/>
<text x="234.2" y="367.3" font-size="9.6" text-anchor="end" font-weight="normal" fill="#000" stroke="#000" stroke-width="0.1">2</text>
<line x1="235.4" y1="344.9" x2="237.2" y2="344.9" stroke="#000" stroke-width="0.9"/>
<text x="234.2" y="347.4" font-size="9.6" text-anchor="end" font-weight="normal" fill="#000" stroke="#000" stroke-width="0.1">3</text>
<line x1="235.4" y1="325" x2="237.2" y2="325" stroke="#000" stroke-width="0.9"/>
<text x="234.2" y="327.5" font-size="9.6" text-anchor="end" font-weight="normal" fill="#000" stroke="#000" stroke-width="0.1">4</text>
<line x1="235.4" y1="305.1" x2="237.2" y2="305.1" stroke="#000" stroke-width="0.9"/>
<text x="234.2" y="307.6" font-size="9.6" text-anchor="end" font-weight="normal" fill="#000" stroke="#000" stroke-width="0.1">5</text>
<line x1="237.2" y1="404.6" x2="237.2" y2="407.4" stroke="#000" stroke-width="0.9"/>
<line x1="242.01" y1="404.6" x2="242.01" y2="407.4" stroke="#000" stroke-width="0.9"/>
<line x1="246.83" y1="404.6" x2="246.83" y2="407.4" stroke="#000" stroke-width="0.9"/>
<line x1="251.64" y1="404.6" x2="251.64" y2="407.4" stroke="#000" stroke-width="0.9"/>
<line x1="256.46" y1="404.6" x2="256.46" y2="407.4" stroke="#000" stroke-width="0.9"/>
<line x1="261.27" y1="404.6" x2="261.27" y2="407.4" stroke="#000" stroke-width="0.9"/>
<line x1="266.09" y1="404.6" x2="266.09" y2="407.4" stroke="#000" stroke-width="0.9"/>
<line x1="270.9" y1="404.6" x2="270.9" y2="407.4" stroke="#000" stroke-width="0.9"/>
<line x1="275.72" y1="404.6" x2="275.72" y2="407.4" stroke="#000" stroke-width="0.9"/>
<line x1="280.53" y1="404.6" x2="280.53" y2="407.4" stroke="#000" stroke-width="0.9"/>
<line x1="285.35" y1="404.6" x2="285.35" y2="407.4" stroke="#000" stroke-width="0.9"/>
<line x1="290.16" y1="404.6" x2="290.16" y2="407.4" stroke="#000" stroke-width="0.9"/>
<line x1="294.98" y1="404.6" x2="294.98" y2="407.4" stroke="#000" stroke-width="0.9"/>
<line x1="299.79" y1="404.6" x2="299.79" y2="407.4" stroke="#000" stroke-width="0.9"/>
<line x1="304.61" y1="404.6" x2="304.61" y2="407.4" stroke="#000" stroke-width="0.9"/>
<line x1="309.42" y1="404.6" x2="309.42" y2="407.4" stroke="#000" stroke-width="0.9"/>
<line x1="314.24" y1="404.6" x2="314.24" y2="407.4" stroke="#000" stroke-width="0.9"/>
<text x="243.2" y="416" font-size="9.6" text-anchor="middle" font-weight="normal" fill="#000" stroke="#000" stroke-width="0.1">3</text>
<text x="257.9" y="416" font-size="9.6" text-anchor="middle" font-weight="normal" fill="#000" stroke="#000" stroke-width="0.1">12</text>
<text x="275.9" y="416" font-size="9.6" text-anchor="middle" font-weight="normal" fill="#000" stroke="#000" stroke-width="0.1">24</text>
<text x="295.7" y="416" font-size="9.6" text-anchor="middle" font-weight="normal" fill="#000" stroke="#000" stroke-width="0.1">36</text>
<text x="314.3" y="416" font-size="9.6" text-anchor="middle" font-weight="normal" fill="#000" stroke="#000" stroke-width="0.1">48</text>
<text x="279.75" y="436" font-size="11.5" text-anchor="middle" font-weight="normal" fill="#000" stroke="#000" stroke-width="0.12">Time (h)</text>
<line x1="236.2" y1="384.7" x2="315.9" y2="384.7" stroke="#111" stroke-width="1.2" stroke-dasharray="3.3,3.2"/>
<polyline points="237.2,384.8 265.8,382.3 275.4,369.4 313.65,361.7" fill="none" stroke="#000" stroke-width="1.1"/>
<rect x="236.1" y="383.7" width="2.2" height="2.2" fill="#000"/>
<rect x="264.7" y="381.2" width="2.2" height="2.2" fill="#000"/>
<line x1="265.8" y1="380.8" x2="265.8" y2="383.8" stroke="#000" stroke-width="0.9"/>
<line x1="264.6" y1="380.8" x2="267" y2="380.8" stroke="#000" stroke-width="0.8"/>
<line x1="264.6" y1="383.8" x2="267" y2="383.8" stroke="#000" stroke-width="0.8"/>
<rect x="274.3" y="368.3" width="2.2" height="2.2" fill="#000"/>
<line x1="275.4" y1="365.6" x2="275.4" y2="373.3" stroke="#000" stroke-width="0.9"/>
<line x1="274.2" y1="365.6" x2="276.6" y2="365.6" stroke="#000" stroke-width="0.8"/>
<line x1="274.2" y1="373.3" x2="276.6" y2="373.3" stroke="#000" stroke-width="0.8"/>
<rect x="312.55" y="360.6" width="2.2" height="2.2" fill="#000"/>
<line x1="313.65" y1="360.2" x2="313.65" y2="363.2" stroke="#000" stroke-width="0.9"/>
<line x1="312.45" y1="360.2" x2="314.85" y2="360.2" stroke="#000" stroke-width="0.8"/>
<line x1="312.45" y1="363.2" x2="314.85" y2="363.2" stroke="#000" stroke-width="0.8"/>
<text x="275.3" y="363.25" font-size="8.8" text-anchor="middle" font-weight="bold" fill="#000" >***</text>
<text x="313.4" y="358.6" font-size="8.8" text-anchor="middle" font-weight="bold" fill="#000" >***</text>
<text x="348.6" y="293.5" font-size="11.4" text-anchor="start" font-weight="normal" fill="#000" stroke="#000" stroke-width="0.12">Flagellin</text>
<line x1="336.2" y1="304.1" x2="336.2" y2="406.4" stroke="#000" stroke-width="1.1"/>
<line x1="335.7" y1="403.6" x2="415.4" y2="403.6" stroke="#000" stroke-width="1.2"/>
<line x1="334.4" y1="403.6" x2="336.2" y2="403.6" stroke="#000" stroke-width="0.9"/>
<text x="333.2" y="406.1" font-size="9.6" text-anchor="end" font-weight="normal" fill="#000" stroke="#000" stroke-width="0.1">0</text>
<line x1="334.4" y1="383.76" x2="336.2" y2="383.76" stroke="#000" stroke-width="0.9"/>
<text x="333.2" y="386.26" font-size="9.6" text-anchor="end" font-weight="normal" fill="#000" stroke="#000" stroke-width="0.1">1</text>
<line x1="334.4" y1="363.92" x2="336.2" y2="363.92" stroke="#000" stroke-width="0.9"/>
<text x="333.2" y="366.42" font-size="9.6" text-anchor="end" font-weight="normal" fill="#000" stroke="#000" stroke-width="0.1">2</text>
<line x1="334.4" y1="344.08" x2="336.2" y2="344.08" stroke="#000" stroke-width="0.9"/>
<text x="333.2" y="346.58" font-size="9.6" text-anchor="end" font-weight="normal" fill="#000" stroke="#000" stroke-width="0.1">3</text>
<line x1="334.4" y1="324.24" x2="336.2" y2="324.24" stroke="#000" stroke-width="0.9"/>
<text x="333.2" y="326.74" font-size="9.6" text-anchor="end" font-weight="normal" fill="#000" stroke="#000" stroke-width="0.1">4</text>
<line x1="334.4" y1="304.4" x2="336.2" y2="304.4" stroke="#000" stroke-width="0.9"/>
<text x="333.2" y="306.9" font-size="9.6" text-anchor="end" font-weight="normal" fill="#000" stroke="#000" stroke-width="0.1">5</text>
<line x1="336.2" y1="403.6" x2="336.2" y2="406.4" stroke="#000" stroke-width="0.9"/>
<line x1="341.01" y1="403.6" x2="341.01" y2="406.4" stroke="#000" stroke-width="0.9"/>
<line x1="345.83" y1="403.6" x2="345.83" y2="406.4" stroke="#000" stroke-width="0.9"/>
<line x1="350.64" y1="403.6" x2="350.64" y2="406.4" stroke="#000" stroke-width="0.9"/>
<line x1="355.46" y1="403.6" x2="355.46" y2="406.4" stroke="#000" stroke-width="0.9"/>
<line x1="360.27" y1="403.6" x2="360.27" y2="406.4" stroke="#000" stroke-width="0.9"/>
<line x1="365.09" y1="403.6" x2="365.09" y2="406.4" stroke="#000" stroke-width="0.9"/>
<line x1="369.9" y1="403.6" x2="369.9" y2="406.4" stroke="#000" stroke-width="0.9"/>
<line x1="374.72" y1="403.6" x2="374.72" y2="406.4" stroke="#000" stroke-width="0.9"/>
<line x1="379.53" y1="403.6" x2="379.53" y2="406.4" stroke="#000" stroke-width="0.9"/>
<line x1="384.35" y1="403.6" x2="384.35" y2="406.4" stroke="#000" stroke-width="0.9"/>
<line x1="389.16" y1="403.6" x2="389.16" y2="406.4" stroke="#000" stroke-width="0.9"/>
<line x1="393.98" y1="403.6" x2="393.98" y2="406.4" stroke="#000" stroke-width="0.9"/>
<line x1="398.79" y1="403.6" x2="398.79" y2="406.4" stroke="#000" stroke-width="0.9"/>
<line x1="403.61" y1="403.6" x2="403.61" y2="406.4" stroke="#000" stroke-width="0.9"/>
<line x1="408.42" y1="403.6" x2="408.42" y2="406.4" stroke="#000" stroke-width="0.9"/>
<line x1="413.24" y1="403.6" x2="413.24" y2="406.4" stroke="#000" stroke-width="0.9"/>
<text x="342.2" y="415" font-size="9.6" text-anchor="middle" font-weight="normal" fill="#000" stroke="#000" stroke-width="0.1">3</text>
<text x="356.9" y="415" font-size="9.6" text-anchor="middle" font-weight="normal" fill="#000" stroke="#000" stroke-width="0.1">12</text>
<text x="374.9" y="415" font-size="9.6" text-anchor="middle" font-weight="normal" fill="#000" stroke="#000" stroke-width="0.1">24</text>
<text x="394.7" y="415" font-size="9.6" text-anchor="middle" font-weight="normal" fill="#000" stroke="#000" stroke-width="0.1">36</text>
<text x="413.3" y="415" font-size="9.6" text-anchor="middle" font-weight="normal" fill="#000" stroke="#000" stroke-width="0.1">48</text>
<text x="379" y="436" font-size="11.5" text-anchor="middle" font-weight="normal" fill="#000" stroke="#000" stroke-width="0.12">Time (h)</text>
<line x1="335.2" y1="383.76" x2="414.9" y2="383.76" stroke="#111" stroke-width="1.2" stroke-dasharray="3.3,3.2"/>
<polyline points="336.2,383.6 365,380 374.7,364.2 412.95,360.8" fill="none" stroke="#000" stroke-width="1.1"/>
<rect x="335.1" y="382.5" width="2.2" height="2.2" fill="#000"/>
<rect x="363.9" y="378.9" width="2.2" height="2.2" fill="#000"/>
<line x1="365" y1="378.5" x2="365" y2="381.5" stroke="#000" stroke-width="0.9"/>
<line x1="363.8" y1="378.5" x2="366.2" y2="378.5" stroke="#000" stroke-width="0.8"/>
<line x1="363.8" y1="381.5" x2="366.2" y2="381.5" stroke="#000" stroke-width="0.8"/>
<rect x="373.6" y="363.1" width="2.2" height="2.2" fill="#000"/>
<line x1="374.7" y1="358.5" x2="374.7" y2="371.3" stroke="#000" stroke-width="0.9"/>
<line x1="373.5" y1="358.5" x2="375.9" y2="358.5" stroke="#000" stroke-width="0.8"/>
<line x1="373.5" y1="371.3" x2="375.9" y2="371.3" stroke="#000" stroke-width="0.8"/>
<rect x="411.85" y="359.7" width="2.2" height="2.2" fill="#000"/>
<line x1="412.95" y1="356.5" x2="412.95" y2="364" stroke="#000" stroke-width="0.9"/>
<line x1="411.75" y1="356.5" x2="414.15" y2="356.5" stroke="#000" stroke-width="0.8"/>
<line x1="411.75" y1="364" x2="414.15" y2="364" stroke="#000" stroke-width="0.8"/>
<text x="374.6" y="358.2" font-size="8.8" text-anchor="middle" font-weight="bold" fill="#000" >***</text>
<text x="412.7" y="356.2" font-size="8.8" text-anchor="middle" font-weight="bold" fill="#000" >***</text>
<text x="459" y="293.5" font-size="11.4" text-anchor="start" font-weight="normal" fill="#000" stroke="#000" stroke-width="0.12">IL-1β</text>
<line x1="435.2" y1="302.1" x2="435.2" y2="405" stroke="#000" stroke-width="1.1"/>
<line x1="434.7" y1="402.2" x2="514.4" y2="402.2" stroke="#000" stroke-width="1.2"/>
<line x1="433.4" y1="402.2" x2="435.2" y2="402.2" stroke="#000" stroke-width="0.9"/>
<text x="432.2" y="404.7" font-size="9.6" text-anchor="end" font-weight="normal" fill="#000" stroke="#000" stroke-width="0.1">0</text>
<line x1="433.4" y1="382.24" x2="435.2" y2="382.24" stroke="#000" stroke-width="0.9"/>
<text x="432.2" y="384.74" font-size="9.6" text-anchor="end" font-weight="normal" fill="#000" stroke="#000" stroke-width="0.1">1</text>
<line x1="433.4" y1="362.28" x2="435.2" y2="362.28" stroke="#000" stroke-width="0.9"/>
<text x="432.2" y="364.78" font-size="9.6" text-anchor="end" font-weight="normal" fill="#000" stroke="#000" stroke-width="0.1">2</text>
<line x1="433.4" y1="342.32" x2="435.2" y2="342.32" stroke="#000" stroke-width="0.9"/>
<text x="432.2" y="344.82" font-size="9.6" text-anchor="end" font-weight="normal" fill="#000" stroke="#000" stroke-width="0.1">3</text>
<line x1="433.4" y1="322.36" x2="435.2" y2="322.36" stroke="#000" stroke-width="0.9"/>
<text x="432.2" y="324.86" font-size="9.6" text-anchor="end" font-weight="normal" fill="#000" stroke="#000" stroke-width="0.1">4</text>
<line x1="433.4" y1="302.4" x2="435.2" y2="302.4" stroke="#000" stroke-width="0.9"/>
<text x="432.2" y="304.9" font-size="9.6" text-anchor="end" font-weight="normal" fill="#000" stroke="#000" stroke-width="0.1">5</text>
<line x1="435.2" y1="402.2" x2="435.2" y2="405" stroke="#000" stroke-width="0.9"/>
<line x1="440.01" y1="402.2" x2="440.01" y2="405" stroke="#000" stroke-width="0.9"/>
<line x1="444.83" y1="402.2" x2="444.83" y2="405" stroke="#000" stroke-width="0.9"/>
<line x1="449.64" y1="402.2" x2="449.64" y2="405" stroke="#000" stroke-width="0.9"/>
<line x1="454.46" y1="402.2" x2="454.46" y2="405" stroke="#000" stroke-width="0.9"/>
<line x1="459.27" y1="402.2" x2="459.27" y2="405" stroke="#000" stroke-width="0.9"/>
<line x1="464.09" y1="402.2" x2="464.09" y2="405" stroke="#000" stroke-width="0.9"/>
<line x1="468.9" y1="402.2" x2="468.9" y2="405" stroke="#000" stroke-width="0.9"/>
<line x1="473.72" y1="402.2" x2="473.72" y2="405" stroke="#000" stroke-width="0.9"/>
<line x1="478.53" y1="402.2" x2="478.53" y2="405" stroke="#000" stroke-width="0.9"/>
<line x1="483.35" y1="402.2" x2="483.35" y2="405" stroke="#000" stroke-width="0.9"/>
<line x1="488.16" y1="402.2" x2="488.16" y2="405" stroke="#000" stroke-width="0.9"/>
<line x1="492.98" y1="402.2" x2="492.98" y2="405" stroke="#000" stroke-width="0.9"/>
<line x1="497.79" y1="402.2" x2="497.79" y2="405" stroke="#000" stroke-width="0.9"/>
<line x1="502.61" y1="402.2" x2="502.61" y2="405" stroke="#000" stroke-width="0.9"/>
<line x1="507.42" y1="402.2" x2="507.42" y2="405" stroke="#000" stroke-width="0.9"/>
<line x1="512.24" y1="402.2" x2="512.24" y2="405" stroke="#000" stroke-width="0.9"/>
<text x="441.2" y="413.6" font-size="9.6" text-anchor="middle" font-weight="normal" fill="#000" stroke="#000" stroke-width="0.1">3</text>
<text x="455.9" y="413.6" font-size="9.6" text-anchor="middle" font-weight="normal" fill="#000" stroke="#000" stroke-width="0.1">12</text>
<text x="473.9" y="413.6" font-size="9.6" text-anchor="middle" font-weight="normal" fill="#000" stroke="#000" stroke-width="0.1">24</text>
<text x="493.7" y="413.6" font-size="9.6" text-anchor="middle" font-weight="normal" fill="#000" stroke="#000" stroke-width="0.1">36</text>
<text x="512.3" y="413.6" font-size="9.6" text-anchor="middle" font-weight="normal" fill="#000" stroke="#000" stroke-width="0.1">48</text>
<text x="477" y="436" font-size="11.5" text-anchor="middle" font-weight="normal" fill="#000" stroke="#000" stroke-width="0.12">Time (h)</text>
<line x1="434.2" y1="382.24" x2="513.9" y2="382.24" stroke="#111" stroke-width="1.2" stroke-dasharray="3.3,3.2"/>
<polyline points="435.2,382.3 463.8,384.2 473,359.7 511.05,335.8" fill="none" stroke="#000" stroke-width="1.1"/>
<rect x="434.1" y="381.2" width="2.2" height="2.2" fill="#000"/>
<rect x="462.7" y="383.1" width="2.2" height="2.2" fill="#000"/>
<rect x="471.9" y="358.6" width="2.2" height="2.2" fill="#000"/>
<line x1="473" y1="354.4" x2="473" y2="364.6" stroke="#000" stroke-width="0.9"/>
<line x1="471.8" y1="354.4" x2="474.2" y2="354.4" stroke="#000" stroke-width="0.8"/>
<line x1="471.8" y1="364.6" x2="474.2" y2="364.6" stroke="#000" stroke-width="0.8"/>
<rect x="509.95" y="334.7" width="2.2" height="2.2" fill="#000"/>
<line x1="511.05" y1="327.2" x2="511.05" y2="343.1" stroke="#000" stroke-width="0.9"/>
<line x1="509.85" y1="327.2" x2="512.25" y2="327.2" stroke="#000" stroke-width="0.8"/>
<line x1="509.85" y1="343.1" x2="512.25" y2="343.1" stroke="#000" stroke-width="0.8"/>
<text x="473.1" y="352.8" font-size="8.8" text-anchor="middle" font-weight="bold" fill="#000" >**</text>
<text x="511.6" y="326.2" font-size="8.8" text-anchor="middle" font-weight="bold" fill="#000" >***</text>
</svg>
</body></html>
